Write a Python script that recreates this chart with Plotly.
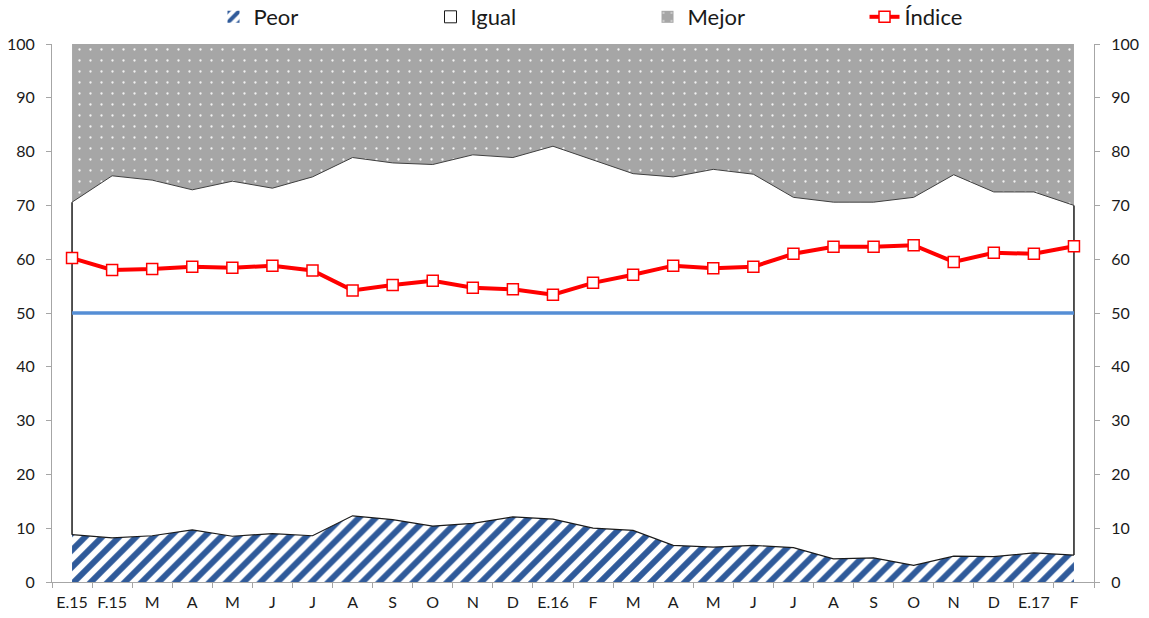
import plotly.graph_objects as go

categories = ["E.15", "F.15", "M", "A", "M ", "J", "J ", "A ", "S", "O", "N", "D",
              "E.16", "F", "M  ", "A  ", "M   ", "J  ", "J   ", "A   ", "S ", "O ",
              "N ", "D ", "E.17", "F "]
tick_labels = ["E.15", "F.15", "M", "A", "M", "J", "J", "A", "S", "O", "N", "D",
               "E.16", "F", "M", "A", "M", "J", "J", "A", "S", "O", "N", "D", "E.17", "F"]

peor = [8.8, 8.2, 8.6, 9.7, 8.5, 9.0, 8.6, 12.3, 11.6, 10.4, 10.9, 12.1, 11.7,
        10.0, 9.6, 6.8, 6.5, 6.8, 6.4, 4.3, 4.5, 3.1, 4.8, 4.7, 5.4, 5.0]
igual = [61.8, 67.3, 66.1, 63.2, 66.0, 64.2, 66.7, 66.6, 66.3, 67.2, 68.5, 66.8, 69.3,
         68.4, 66.3, 68.5, 70.2, 69.0, 65.1, 66.3, 66.1, 68.4, 70.9, 67.8, 67.1, 65.0]
mejor = [29.4, 24.5, 25.3, 27.1, 25.5, 26.8, 24.7, 21.1, 22.1, 22.4, 20.6, 21.1, 19.0,
         21.6, 24.1, 24.7, 23.3, 24.2, 28.5, 29.4, 29.4, 28.5, 24.3, 27.5, 27.5, 30.0]
indice = [60.2, 58.0, 58.2, 58.6, 58.4, 58.8, 57.9, 54.2, 55.2, 56.0, 54.7, 54.4, 53.4,
          55.6, 57.1, 58.8, 58.3, 58.6, 61.0, 62.3, 62.3, 62.6, 59.5, 61.2, 61.0, 62.4]
referencia = [50] * len(categories)

FONT = "Lato"
AXIS_COLOR = "#A6A6A6"
BLUE = "#2F5A9A"
GRAY = "#A6A6A6"

peor_pattern = dict(shape="/", fgcolor=BLUE, bgcolor="white", fgopacity=1, size=12, solidity=0.5)
mejor_pattern = dict(shape=".", fgcolor="#F2F2F2", bgcolor=GRAY, fgopacity=1, size=11, solidity=0.035)

fig = go.Figure()

fig.add_trace(go.Scatter(
    x=categories, y=peor, name="Peor", stackgroup="one", mode="lines",
    line=dict(color="#1a1a1a", width=1.2),
    fillcolor="white", fillpattern=peor_pattern, showlegend=False,
))
fig.add_trace(go.Scatter(
    x=categories, y=igual, name="Igual", stackgroup="one", mode="lines",
    line=dict(color="#404040", width=1),
    fillcolor="white", showlegend=False,
))
fig.add_trace(go.Scatter(
    x=categories, y=mejor, name="Mejor", stackgroup="one", mode="lines",
    line=dict(color=GRAY, width=0),
    fillcolor=GRAY, fillpattern=mejor_pattern, showlegend=False,
))

# vertical edges of the Igual area at both ends
upper_first = peor[0] + igual[0]
upper_last = peor[-1] + igual[-1]
fig.add_trace(go.Scatter(
    x=[categories[0], categories[0], None, categories[-1], categories[-1]],
    y=[peor[0], upper_first, None, peor[-1], upper_last],
    mode="lines", line=dict(color="#1a1a1a", width=1.5),
    showlegend=False, hoverinfo="skip",
))

fig.add_trace(go.Scatter(
    x=categories, y=referencia, mode="lines", yaxis="y2",
    line=dict(color="#558ED5", width=3.5), showlegend=False, hoverinfo="skip",
))

# legend swatches
fig.add_trace(go.Bar(x=[None], y=[None], name="Peor",
                     marker=dict(color="white", pattern=peor_pattern, line=dict(width=0))))
fig.add_trace(go.Bar(x=[None], y=[None], name="Igual",
                     marker=dict(color="white", line=dict(color="#1a1a1a", width=1))))
fig.add_trace(go.Bar(x=[None], y=[None], name="Mejor",
                     marker=dict(color=GRAY, pattern=mejor_pattern, line=dict(width=0))))

fig.add_trace(go.Scatter(
    x=categories, y=indice, name="Índice", mode="lines+markers",
    line=dict(color="#FF0000", width=4),
    marker=dict(symbol="square", size=11, color="white", line=dict(color="#FF0000", width=1.5)),
))

fig.update_layout(
    width=1149, height=618,
    margin=dict(l=52, r=55, t=44, b=36, autoexpand=False),
    paper_bgcolor="white", plot_bgcolor="white",
    font=dict(family=FONT, size=16, color="#1a1a1a"),
    showlegend=True,
    legend=dict(
        orientation="h", x=0.155, xanchor="left", y=1.0892, yanchor="top",
        traceorder="normal", entrywidth=172, entrywidthmode="pixels",
        font=dict(family=FONT, size=22, color="#1a1a1a"),
        bgcolor="rgba(0,0,0,0)",
    ),
    xaxis=dict(
        type="category", categoryorder="array", categoryarray=categories,
        tickmode="array", tickvals=categories, ticktext=tick_labels,
        range=[-0.5, len(categories) - 0.5], tickangle=0,
        tickson="boundaries", ticks="outside", ticklen=5, tickcolor=AXIS_COLOR,
        showline=True, linecolor=AXIS_COLOR, linewidth=1,
        showgrid=False, zeroline=False, ticklabelstandoff=6,
        tickfont=dict(size=16),
    ),
    yaxis=dict(
        range=[0, 100], dtick=10, ticks="outside", ticklen=5, tickcolor=AXIS_COLOR,
        showline=True, linecolor=AXIS_COLOR, linewidth=1,
        showgrid=False, zeroline=False, tickfont=dict(size=16), ticklabelstandoff=8,
    ),
    yaxis2=dict(
        range=[0, 100], dtick=10, overlaying="y", side="right",
        ticks="outside", ticklen=5, tickcolor=AXIS_COLOR,
        showline=True, linecolor=AXIS_COLOR, linewidth=1,
        showgrid=False, zeroline=False, tickfont=dict(size=16), ticklabelstandoff=8,
    ),
    barmode="overlay",
)

fig.write_html("out.html", config={"displayModeBar": False},
               post_script="document.body.style.margin='0';")
